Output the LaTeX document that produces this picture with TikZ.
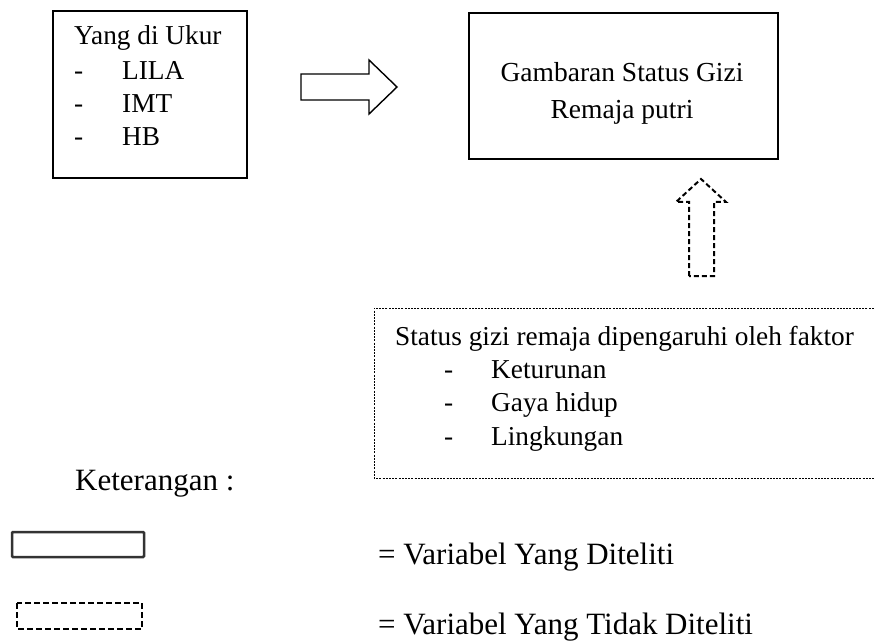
\documentclass[tikz,border=0pt]{standalone}
\usepackage{fontspec}
\setmainfont{Liberation Serif}
\begin{document}
\begin{tikzpicture}[x=1pt,y=-1pt,
  txt/.style={inner sep=0pt,anchor=base west,font=\fontsize{27.3}{32}\selectfont},
  ctxt/.style={inner sep=0pt,anchor=base,font=\fontsize{27.5}{32}\selectfont},
  ltxt/.style={inner sep=0pt,anchor=base west,font=\fontsize{31}{36}\selectfont},
  solidbox/.style={draw,line width=1.2pt},
  dotbox/.style={draw,line width=0.7pt,dash pattern=on 2pt off 1.2pt},
  dasharrow/.style={draw,line width=2pt,dash pattern=on 5pt off 3pt},
  legsolid/.style={draw=black!80,line width=2.5pt,rounded corners=1pt},
  legdash/.style={draw=black,line width=2.6pt,dash pattern=on 6pt off 3pt},
  blockarrow/.style={draw,line width=1.4pt,line join=miter}]
\useasboundingbox (0,0) rectangle (874,644);

% left box
\draw[solidbox] (53,11) rectangle (247,178);
\node[txt] (ukur) at (74,45) {Yang di Ukur};
\node[txt] (d1) at (74,80) {-};
\node[txt] (lila) at (122,80) {LILA};
\node[txt] (d2) at (74,113) {-};
\node[txt] (imt) at (122,113) {IMT};
\node[txt] (d3) at (74,146) {-};
\node[txt] (hb) at (122,146) {HB};

% right block arrow
\draw[blockarrow] (301,74) -- (369,74) -- (369,60) -- (397,87) -- (369,114) -- (369,100) -- (301,100) -- cycle;

% right box
\draw[solidbox] (469,13) rectangle (778,159);
\node[ctxt] (gam) at (622,82) {Gambaran Status Gizi};
\node[ctxt] (rem) at (622,119) {Remaja putri};

% dashed up arrow
\draw[dasharrow] (689,276) -- (689,202) -- (676,202) -- (701,179) -- (726,202) -- (714,202) -- (714,276) -- cycle;

% dotted box
\draw[dotbox] (877,308) -- (374,308) -- (374,478) -- (877,478);
\node[txt] (stat) at (395,345) {Status gizi remaja dipengaruhi oleh faktor};
\node[txt] (e1) at (444,378) {-};
\node[txt] (ket) at (491,378) {Keturunan};
\node[txt] (e2) at (444,411) {-};
\node[txt] (gaya) at (491,411) {Gaya hidup};
\node[txt] (e3) at (444,445) {-};
\node[txt] (ling) at (491,445) {Lingkungan};

% legend
\node[ltxt] (keter) at (75,490) {Keterangan :};
\draw[legsolid] (12,532) rectangle (144,557);
\node[ltxt] (v1) at (378,564) {= Variabel Yang Diteliti};
\draw[legdash] (17,603) rectangle (142,629);
\node[ltxt] (v2) at (378,634) {= Variabel Yang Tidak Diteliti};
\end{tikzpicture}
\end{document}
